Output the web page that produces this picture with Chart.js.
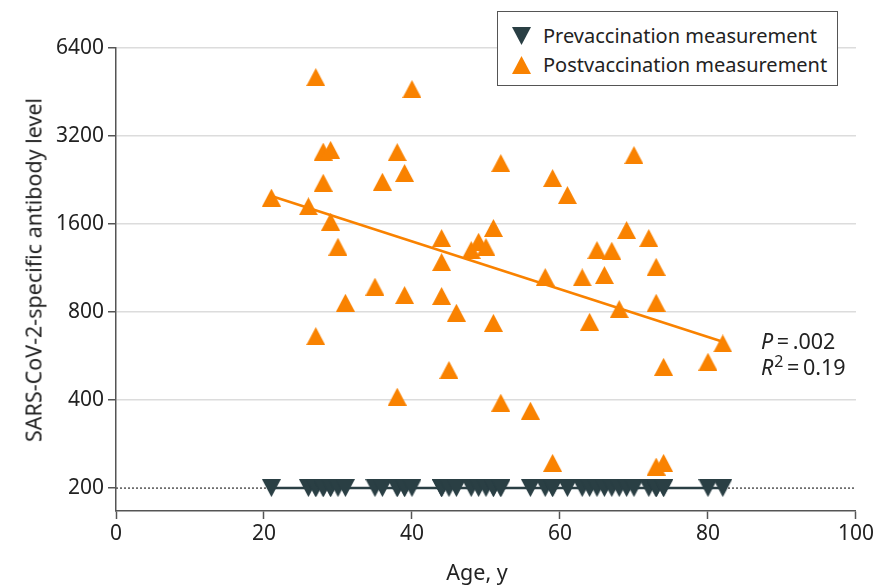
<!DOCTYPE html>
<html>
<head>
<meta charset="utf-8">
<script src="https://cdn.jsdelivr.net/npm/chart.js@4/dist/chart.umd.min.js"></script>
<style>
    body { margin: 0; background: #fff; }
    #wrap { position: relative; width: 876px; height: 585px; font-family: "Noto Sans", sans-serif; color: #222; }
    #chart { position: absolute; left: 0; top: 0; }
    .legend { position: absolute; left: 497px; top: 11px; width: 339px; height: 73px; border: 1.5px solid #555; background: #fff; }
    .legend .row { position: absolute; left: 0; height: 24px; line-height: 24px; font-size: 20px; white-space: nowrap; }
    .legend .mark { position: absolute; left: 14px; top: 3px; }
    .legend .txt { position: absolute; left: 45px; top: 0; }
    .ytitle { position: absolute; left: 33px; top: 270px; transform: translate(-50%, -50%) rotate(-90deg); font-size: 21.5px; white-space: nowrap; }
    .xtitle { position: absolute; left: 477px; top: 571px; transform: translate(-50%, -50%); font-size: 21.5px; white-space: nowrap; }
    .note { position: absolute; left: 761px; font-size: 21.5px; line-height: 21px; white-space: nowrap; }
    .note sup { font-size: 16px; line-height: 0; margin-left: 1px; }
</style>
</head>
<body>
<div id="wrap">
    <canvas id="chart" width="876" height="585"></canvas>
    <div class="legend">
        <div class="row" style="top:12px">
            <svg class="mark" width="19" height="18"><polygon points="0,0 19,0 9.5,18" fill="#2a3f44"/></svg>
            <span class="txt">Prevaccination measurement</span>
        </div>
        <div class="row" style="top:41px">
            <svg class="mark" width="19" height="18"><polygon points="9.5,0 19,18 0,18" fill="#f98200"/></svg>
            <span class="txt">Postvaccination measurement</span>
        </div>
    </div>
    <div class="ytitle">SARS-CoV-2-specific antibody level</div>
    <div class="xtitle">Age, y</div>
    <div class="note" style="top:330px"><i>P</i>&thinsp;=&thinsp;.002</div>
    <div class="note" style="top:356px"><i>R</i><sup>2</sup>&thinsp;=&thinsp;0.19</div>
</div>
<script>
// participant ages (same people before and after vaccination)
const ages = [21, 26, 27, 27, 28, 29, 28, 29, 30, 31,
              35, 36, 38, 38, 39, 39, 40, 44, 44, 44,
              45, 46, 48, 49, 50, 51, 51, 52, 52, 56,
              58, 59, 59, 61, 63, 64, 65, 66, 67, 68,
              69, 70, 72, 73, 73, 73, 74, 74, 80, 82];

const postLevels = [1970, 1840, 5090, 662, 2830, 2870, 2215, 1630, 1338, 861,
                    977, 2233, 411, 2820, 2392, 915, 4634, 1433, 1186, 908,
                    507, 796, 1304, 1392, 1335, 1551, 735, 2587, 392, 368,
                    1054, 244, 2299, 2011, 1051, 741, 1304, 1071, 1297, 819,
                    1526, 2755, 1433, 1143, 861, 237, 244, 520, 541, 625];

// all prevaccination values sit at the detection limit
const preLevels = [200, 200, 200, 200, 200, 200, 200, 200, 200, 200,
                   200, 200, 200, 200, 200, 200, 200, 200, 200, 200,
                   200, 200, 200, 200, 200, 200, 200, 200, 200, 200,
                   200, 200, 200, 200, 200, 200, 200, 200, 200, 200,
                   200, 200, 200, 200, 200, 200, 200, 200, 200, 200];

// fitted lines
const fitAges = [21, 82];
const postFit = [1995, 633];
const preFit = [200, 200];

// dotted limit line
const limitAges = [0, 100];
const limitLevels = [200, 200];

const yTicks = [200, 400, 800, 1600, 3200, 6400];
const xTicks = [0, 20, 40, 60, 80, 100];

const ORANGE = '#f98200';
const SLATE = '#2a3f44';

function triangleImage(color, up) {
    const c = document.createElement('canvas');
    c.width = 19;
    c.height = 18;
    const ctx = c.getContext('2d');
    ctx.fillStyle = color;
    ctx.beginPath();
    if (up) {
        ctx.moveTo(9.5, 0); ctx.lineTo(19, 18); ctx.lineTo(0, 18);
    } else {
        ctx.moveTo(0, 0); ctx.lineTo(19, 0); ctx.lineTo(9.5, 18);
    }
    ctx.closePath();
    ctx.fill();
    return c;
}

const toPoints = (xs, ys) => xs.map((x, i) => ({ x: x, y: ys[i] }));

const upTri = triangleImage(ORANGE, true);
const downTri = triangleImage(SLATE, false);

Chart.defaults.font.family = '"Noto Sans", sans-serif';
Chart.defaults.color = '#222';

new Chart(document.getElementById('chart').getContext('2d'), {
    type: 'scatter',
    data: {
        datasets: [
            {
                label: 'limit',
                type: 'line',
                data: toPoints(limitAges, limitLevels),
                borderColor: '#555',
                borderWidth: 1.5,
                borderDash: [2, 2],
                pointRadius: 0,
                order: 6
            },
            {
                label: 'Prevaccination fit',
                type: 'line',
                data: toPoints(fitAges, preFit),
                borderColor: SLATE,
                borderWidth: 2.5,
                pointRadius: 0,
                order: 5
            },
            {
                label: 'Prevaccination measurement',
                data: toPoints(ages, preLevels),
                pointStyle: downTri,
                order: 4
            },
            {
                label: 'Postvaccination measurement',
                data: toPoints(ages, postLevels),
                pointStyle: upTri,
                order: 3
            },
            {
                label: 'Postvaccination fit',
                type: 'line',
                data: toPoints(fitAges, postFit),
                borderColor: ORANGE,
                borderWidth: 2.5,
                pointRadius: 0,
                order: 2
            }
        ]
    },
    options: {
        responsive: false,
        animation: false,
        layout: { padding: { top: 48, right: 20, left: 0, bottom: 0 } },
        plugins: { legend: { display: false }, tooltip: { enabled: false } },
        scales: {
            x: {
                type: 'linear',
                min: 0,
                max: 100,
                afterBuildTicks: (axis) => { axis.ticks = xTicks.map(v => ({ value: v })); },
                afterFit: (axis) => { axis.height = 74; },
                ticks: { font: { size: 21 }, color: '#222', padding: 2, maxRotation: 0 },
                grid: { drawOnChartArea: false, drawTicks: true, tickLength: 8, tickColor: '#555', tickWidth: 1.5 },
                border: { color: '#555', width: 1.5 }
            },
            y: {
                type: 'logarithmic',
                min: 167,
                max: 6400,
                afterBuildTicks: (axis) => { axis.ticks = yTicks.map(v => ({ value: v })); },
                afterFit: (axis) => { axis.width = 116; },
                ticks: { font: { size: 21 }, color: '#222', padding: 4, callback: (v) => String(v) },
                grid: {
                    color: (ctx) => (ctx.tick && ctx.tick.value === 200) ? 'rgba(0,0,0,0)' : '#dcdcdc',
                    lineWidth: 1.5,
                    tickLength: 8,
                    tickColor: '#555',
                    tickWidth: 1.5
                },
                border: { color: '#555', width: 1.5 }
            }
        }
    }
});
</script>
</body>
</html>
